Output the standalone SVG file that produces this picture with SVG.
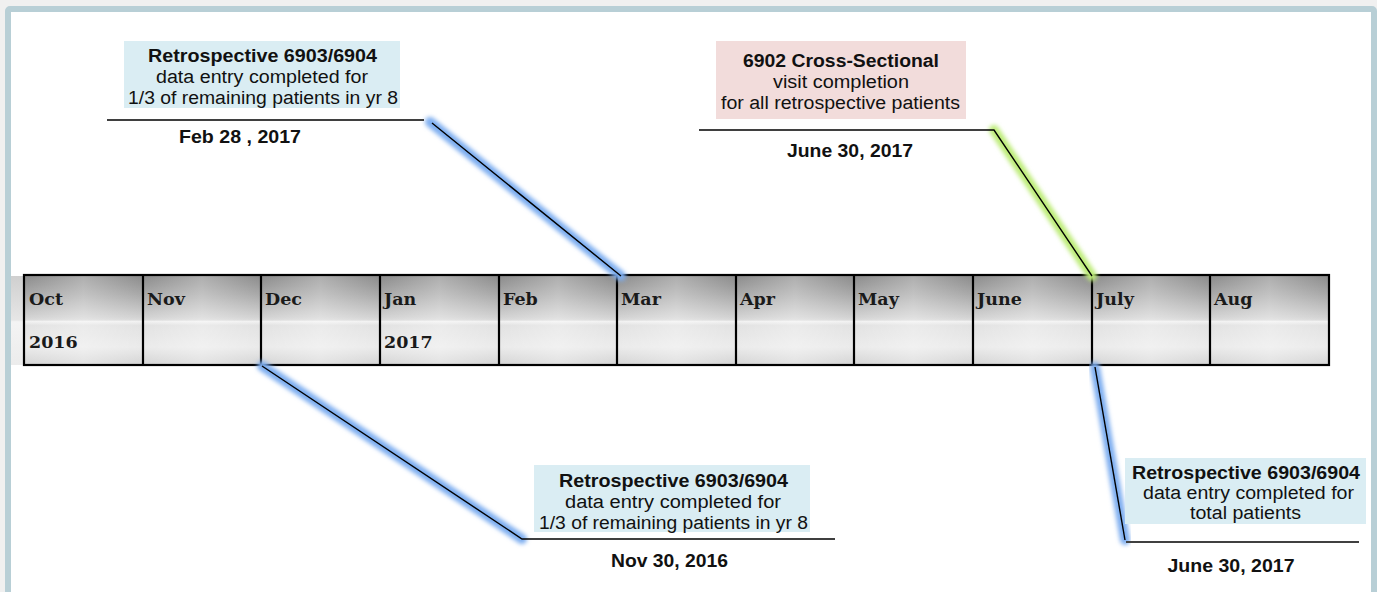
<svg xmlns="http://www.w3.org/2000/svg" width="1377" height="592" viewBox="0 0 1377 592">
<defs>
<style>
.t{font-family:"Liberation Sans",Arial,sans-serif;font-size:18px;fill:#111;text-anchor:middle}
.b{font-weight:bold}
.m{font-family:"DejaVu Serif",serif;font-weight:bold;font-size:17.5px;fill:#1a1a1a}
.cl{stroke:#000;stroke-width:2.2;fill:none}
.ln{stroke:#000;stroke-width:1.4;fill:none}
.gb{stroke:#7eaef0;stroke-width:10;fill:none;stroke-linecap:round;filter:url(#blur)}
.gg{stroke:#bdec78;stroke-width:10;fill:none;stroke-linecap:round;filter:url(#blur)}
</style>
<filter id="blur" x="-20%" y="-20%" width="140%" height="140%"><feGaussianBlur stdDeviation="2"/></filter>
<linearGradient id="tg" gradientUnits="userSpaceOnUse" x1="0" y1="275" x2="0" y2="365">
<stop offset="0" stop-color="#8a8a8a"/>
<stop offset="0.2" stop-color="#a6a6a6"/>
<stop offset="0.47" stop-color="#d2d2d2"/>
<stop offset="0.5" stop-color="#dadada"/>
<stop offset="0.515" stop-color="#f2f2f2"/>
<stop offset="0.56" stop-color="#e2e2e2"/>
<stop offset="0.8" stop-color="#ebebeb"/>
<stop offset="1" stop-color="#d4d4d4"/>
</linearGradient>
<linearGradient id="lg" gradientUnits="userSpaceOnUse" x1="0" y1="275" x2="0" y2="365">
<stop offset="0" stop-color="#cfcfcf"/>
<stop offset="0.5" stop-color="#e6e6e6"/>
<stop offset="0.52" stop-color="#f4f4f4"/>
<stop offset="1" stop-color="#ececec"/>
</linearGradient>
<linearGradient id="hl" x1="0" y1="0" x2="1" y2="0">
<stop offset="0" stop-color="#fff" stop-opacity="0"/>
<stop offset="0.5" stop-color="#fff" stop-opacity="0.3"/>
<stop offset="1" stop-color="#fff" stop-opacity="0"/>
</linearGradient>
</defs>
<rect x="0" y="0" width="1377" height="592" fill="#f0f0f0"/>
<rect x="8" y="9" width="1366" height="600" rx="2" fill="#fff" stroke="#b8cfd6" stroke-width="6"/>

<g id="timeline">
<rect x="11" y="276" width="13" height="89" fill="url(#lg)"/>
<rect x="24" y="275" width="1305" height="90" fill="url(#tg)"/>
<g fill="url(#hl)">
<rect x="24" y="275" width="119" height="90"/>
<rect x="143" y="275" width="118" height="90"/>
<rect x="261" y="275" width="119" height="90"/>
<rect x="380" y="275" width="119" height="90"/>
<rect x="499" y="275" width="118" height="90"/>
<rect x="617" y="275" width="119" height="90"/>
<rect x="736" y="275" width="118" height="90"/>
<rect x="854" y="275" width="119" height="90"/>
<rect x="973" y="275" width="119" height="90"/>
<rect x="1092" y="275" width="118" height="90"/>
<rect x="1210" y="275" width="119" height="90"/>
</g>
<rect x="24" y="275" width="1305" height="90" class="cl"/>
<path class="cl" d="M143,275V366M261,275V366M380,275V366M499,275V366M617,275V366M736,275V366M854,275V366M973,275V366M1092,275V366M1210,275V366"/>
<g class="m">
<text x="29" y="305">Oct</text>
<text x="29" y="348">2016</text>
<text x="147" y="305">Nov</text>
<text x="265" y="305">Dec</text>
<text x="384" y="305">Jan</text>
<text x="384" y="348">2017</text>
<text x="503" y="305">Feb</text>
<text x="621" y="305">Mar</text>
<text x="740" y="305">Apr</text>
<text x="858" y="305">May</text>
<text x="977" y="305">June</text>
<text x="1096" y="305">July</text>
<text x="1214" y="305">Aug</text>
</g>
</g>

<g id="connectors">
<path class="gb" d="M430,122L621,276"/>
<path class="gg" d="M994,130L1092,276"/>
<path class="gb" d="M522,539L262,366"/>
<path class="gb" d="M1095,367L1125,540"/>
<path class="ln" d="M107,120H424M432,123L621,276"/>
<path class="ln" d="M699,130H994L1092,276"/>
<path class="ln" d="M262,366L522,539H835"/>
<path class="ln" d="M1095,367L1125,540"/>
<path d="M1126,542H1359" stroke="#404040" stroke-width="2" fill="none"/>
</g>

<g id="callout-feb">
<rect x="124" y="41" width="276" height="67" fill="#daedf3"/>
<text class="t b" x="262.5" y="62" textLength="229" lengthAdjust="spacingAndGlyphs">Retrospective 6903/6904</text>
<text class="t" x="262" y="83" textLength="212" lengthAdjust="spacingAndGlyphs">data entry completed for</text>
<text class="t" x="263" y="104" textLength="270" lengthAdjust="spacingAndGlyphs">1/3 of remaining patients in yr 8</text>
<text class="t b" x="240" y="143" textLength="122" lengthAdjust="spacingAndGlyphs">Feb 28 , 2017</text>
</g>

<g id="callout-cross">
<rect x="716" y="41" width="250" height="78" fill="#f2dcdb"/>
<text class="t b" x="841" y="67" textLength="196" lengthAdjust="spacingAndGlyphs">6902 Cross-Sectional</text>
<text class="t" x="841" y="88" textLength="136" lengthAdjust="spacingAndGlyphs">visit completion</text>
<text class="t" x="840.5" y="109" textLength="239" lengthAdjust="spacingAndGlyphs">for all retrospective patients</text>
<text class="t b" x="850" y="157" textLength="126" lengthAdjust="spacingAndGlyphs">June 30, 2017</text>
</g>

<g id="callout-nov">
<rect x="534" y="465" width="276" height="67" fill="#daedf3"/>
<text class="t b" x="673.5" y="487" textLength="229" lengthAdjust="spacingAndGlyphs">Retrospective 6903/6904</text>
<text class="t" x="673" y="508" textLength="216" lengthAdjust="spacingAndGlyphs">data entry completed for</text>
<text class="t" x="673.5" y="529" textLength="269" lengthAdjust="spacingAndGlyphs">1/3 of remaining patients in yr 8</text>
<text class="t b" x="669.5" y="567" textLength="117" lengthAdjust="spacingAndGlyphs">Nov 30, 2016</text>
</g>

<g id="callout-total">
<rect x="1125" y="458" width="241" height="66" fill="#daedf3"/>
<text class="t b" x="1246" y="479" textLength="228" lengthAdjust="spacingAndGlyphs">Retrospective 6903/6904</text>
<text class="t" x="1248.5" y="499" textLength="211" lengthAdjust="spacingAndGlyphs">data entry completed for</text>
<text class="t" x="1245.5" y="519" textLength="111" lengthAdjust="spacingAndGlyphs">total patients</text>
<text class="t b" x="1231" y="572" textLength="127" lengthAdjust="spacingAndGlyphs">June 30, 2017</text>
</g>
</svg>
